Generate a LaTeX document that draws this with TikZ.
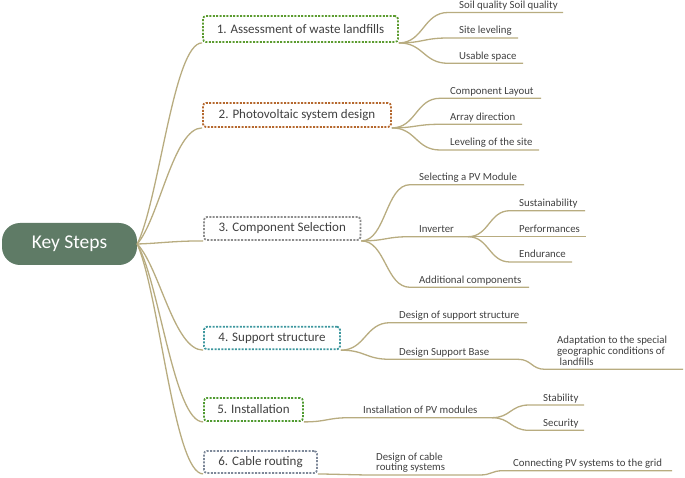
\documentclass[tikz,border=0pt]{standalone}
\usepackage{fontspec}
\setmainfont{Carlito}
\usetikzlibrary{calc}
\definecolor{linec}{HTML}{B8AC80}
\definecolor{rootc}{HTML}{5F7B66}
\definecolor{txt}{HTML}{404040}
\definecolor{cgreen}{HTML}{5B9B2F}
\definecolor{cbrown}{HTML}{B5682E}
\definecolor{cgrey}{HTML}{8C8C8C}
\definecolor{cteal}{HTML}{3D979E}
\definecolor{cgreen2}{HTML}{4F9A30}
\definecolor{cslate}{HTML}{7D8899}
\tikzset{
  link/.style={draw=linec, line width=1.3pt},
  rootlink/.style={to path={let \p1=(\tikztostart), \p2=(\tikztotarget) in
     .. controls ({\x1+0.34*(\x2-\x1)},{\y1+0.22*(\y2-\y1)}) and ({\x2-0.44*(\x2-\x1)},{\y2}) .. (\tikztotarget)}},
  sig/.style={to path={let \p1=(\tikztostart), \p2=(\tikztotarget) in
     .. controls ({0.5*(\x1+\x2)},{\y1}) and ({0.5*(\x1+\x2)},{\y2}) .. (\tikztotarget)}},
  stepbox/.style={draw=#1, rounded corners=3pt, dash pattern=on 2pt off 1.4pt, line width=1.8pt,
     inner sep=0pt, font=\fontsize{13}{15}\selectfont, text=txt},
  rootbox/.style={fill=rootc, rounded corners=18pt, inner sep=0pt, text=white,
     font=\fontsize{19.5}{22}\selectfont},
  leaf/.style={anchor=base west, inner sep=0pt, font=\fontsize{10.8}{10.8}\selectfont, text=txt, align=left},
}
\begin{document}
\begin{tikzpicture}[x=1pt,y=-1pt]
\useasboundingbox (0,0) rectangle (685,478);
% root
\node[rootbox, minimum width=135pt, minimum height=42pt] (root) at (69.5,244) {Key Steps};
% step boxes
\node[stepbox=cgreen, minimum width=195pt, minimum height=26pt] (s1) at (300.5,29) {1. Assessment of waste landfills};
\node[stepbox=cbrown, minimum width=188pt, minimum height=24pt] (s2) at (297,115) {2. Photovoltaic system design};
\node[stepbox=cgrey, minimum width=156.5pt, minimum height=23pt] (s3) at (282.25,228.5) {3. Component Selection};
\node[stepbox=cteal, minimum width=136pt, minimum height=22.5pt] (s4) at (272,338) {4. Support structure};
\node[stepbox=cgreen2, minimum width=99pt, minimum height=23pt] (s5) at (253.5,409.5) {5. Installation};
\node[stepbox=cslate, minimum width=113pt, minimum height=22pt] (s6) at (260.5,462) {6. Cable routing};
% root links
\foreach \s in {s1,s2,s3,s4,s5,s6}{
  \draw[link] (root.east) to[rootlink] (\s.south west);
}
% ---- branch 1
\node[leaf] (t11) at (459,8.5) {Soil quality Soil quality};
\node[leaf] (t12) at (459,34) {Site leveling};
\node[leaf] (t13) at (459,59.3) {Usable space};
\coordinate (a11) at (448,12.5); \coordinate (b11) at (563,12.5);
\coordinate (a12) at (448,38);   \coordinate (b12) at (518,38);
\coordinate (a13) at (448,63.3); \coordinate (b13) at (523,63.3);
\draw[link] (s1.south east) to[sig] (a11) -- (b11);
\draw[link] (s1.south east) to[sig] (a12) -- (b12);
\draw[link] (s1.south east) to[sig] (a13) -- (b13);
% ---- branch 2
\node[leaf] (t21) at (450,94.3) {Component Layout};
\node[leaf] (t22) at (450,120.3) {Array direction};
\node[leaf] (t23) at (450,146) {Leveling of the site};
\coordinate (a21) at (440,98.3);  \coordinate (b21) at (541,98.3);
\coordinate (a22) at (440,124.3); \coordinate (b22) at (522,124.3);
\coordinate (a23) at (440,150);   \coordinate (b23) at (539,150);
\draw[link] (s2.south east) to[sig] (a21) -- (b21);
\draw[link] (s2.south east) to[sig] (a22) -- (b22);
\draw[link] (s2.south east) to[sig] (a23) -- (b23);
% ---- branch 3
\node[leaf] (t31) at (419,180.7) {Selecting a PV Module};
\node[leaf] (t32) at (419,232.7) {Inverter};
\node[leaf] (t33) at (419,283.3) {Additional components};
\coordinate (a31) at (410,184.7); \coordinate (b31) at (524,184.7);
\coordinate (a32) at (410,236.7); \coordinate (b32) at (468,236.7);
\coordinate (a33) at (410,287.3); \coordinate (b33) at (529,287.3);
\draw[link] (s3.south east) to[sig] (a31) -- (b31);
\draw[link] (s3.south east) to[sig] (a32) -- (b32);
\draw[link] (s3.south east) to[sig] (a33) -- (b33);
\node[leaf] (t321) at (519,206.7) {Sustainability};
\node[leaf] (t322) at (519,232.7) {Performances};
\node[leaf] (t323) at (519,258) {Endurance};
\coordinate (a321) at (510,210.7); \coordinate (b321) at (585,210.7);
\coordinate (a322) at (510,236.7); \coordinate (b322) at (586,236.7);
\coordinate (a323) at (510,262);   \coordinate (b323) at (572,262);
\draw[link] (b32) to[sig] (a321) -- (b321);
\draw[link] (b32) to[sig] (a322) -- (b322);
\draw[link] (b32) to[sig] (a323) -- (b323);
% ---- branch 4
\node[leaf] (t41) at (399,318.7) {Design of support structure};
\node[leaf] (t42) at (399,355.3) {Design Support Base};
\coordinate (a41) at (390,322.7); \coordinate (b41) at (527,322.7);
\coordinate (a42) at (390,359.3); \coordinate (b42) at (518,359.3);
\draw[link] (s4.south east) to[sig] (a41) -- (b41);
\draw[link] (s4.south east) to[sig] (a42) -- (b42);
\node[leaf] (t421) at (557,365) {Adaptation to the special\\geographic conditions of\\\ landfills};
\coordinate (a421) at (545,369.3); \coordinate (b421) at (683,369.3);
\draw[link] (b42) to[sig] (a421) -- (b421);
% ---- branch 5
\node[leaf] (t51) at (363,413.7) {Installation of PV modules};
\coordinate (a51) at (350,417.7); \coordinate (b51) at (492,417.7);
\draw[link] (s5.south east) to[sig] (a51) -- (b51);
\node[leaf] (t511) at (543,401) {Stability};
\node[leaf] (t512) at (543,426.3) {Security};
\coordinate (a511) at (529,405);   \coordinate (b511) at (584,405);
\coordinate (a512) at (529,430.3); \coordinate (b512) at (584,430.3);
\draw[link] (b51) to[sig] (a511) -- (b511);
\draw[link] (b51) to[sig] (a512) -- (b512);
% ---- branch 6
\node[leaf] (t61) at (376,470.8) {Design of cable\\routing systems};
\coordinate (a61) at (366,475); \coordinate (b61) at (480,475);
\draw[link] (s6.south east) to[sig] (a61) -- (b61);
\node[leaf] (t611) at (513,466.7) {Connecting PV systems to the grid};
\coordinate (a611) at (503,470.7); \coordinate (b611) at (672,470.7);
\draw[link] (b61) to[sig] (a611) -- (b611);
\end{tikzpicture}
\end{document}
